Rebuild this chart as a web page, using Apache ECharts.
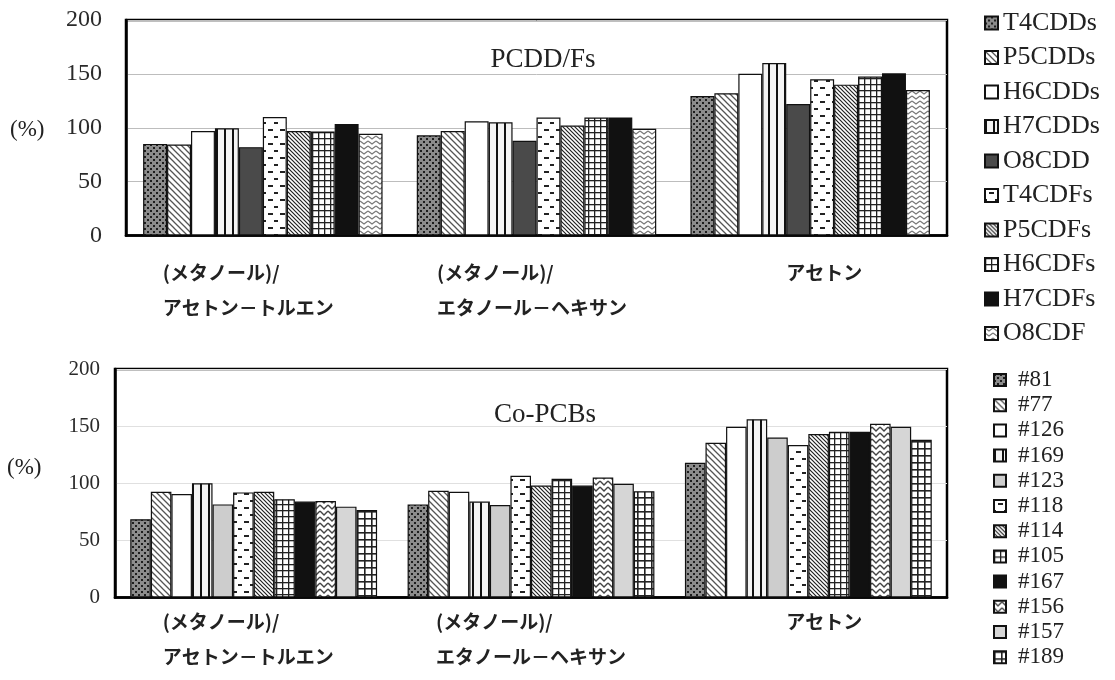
<!DOCTYPE html>
<html>
<head>
<meta charset="utf-8">
<script src="https://cdn.jsdelivr.net/npm/echarts@6/dist/echarts.min.js"></script>
<style>
html,body{margin:0;padding:0;background:#fff;}
#chart{width:1115px;height:680px;}
</style>
</head>
<body>
<div id="chart"></div>
<script>
// ---- data ----
const categories = ['(メタノール)/\nアセトン－トルエン', '(メタノール)/\nエタノール－ヘキサン', 'アセトン'];
const yTicks = [0, 50, 100, 150, 200];

const pcddNames = ['T4CDDs','P5CDDs','H6CDDs','H7CDDs','O8CDD','T4CDFs','P5CDFs','H6CDFs','H7CDFs','O8CDF'];
const pcddAcetoneToluene = [85, 84.5, 97, 99.5, 82, 110, 97, 96.5, 103.5, 94.5];
const pcddEthanolHexane  = [93, 97, 106, 105, 88, 109.5, 102, 109.5, 109.5, 99];
const pcddAcetone        = [129.5, 132, 150, 160, 122, 145, 140, 147.5, 150.5, 135];

const pcbNames = ['#81','#77','#126','#169','#123','#118','#114','#105','#167','#156','#157','#189'];
const pcbAcetoneToluene = [68.5, 92.5, 90.5, 100, 81.5, 92, 92.5, 86, 84, 84.5, 79.5, 76.5];
const pcbEthanolHexane  = [81.5, 93.5, 92.5, 84, 81, 106.5, 98, 104, 98, 105, 99.5, 93];
const pcbAcetone        = [118, 135.5, 149.5, 156, 140, 133.5, 143, 145, 145, 152, 149.5, 138];

// ---- fill patterns ----
function pat(w, h, draw) {
  const c = document.createElement('canvas');
  c.width = w; c.height = h;
  const g = c.getContext('2d');
  draw(g, w, h);
  return { image: c, repeat: 'repeat' };
}
const P = {
  dots: pat(6, 6, (g) => { g.fillStyle = '#8c8c8c'; g.fillRect(0,0,6,6); g.fillStyle = '#1e1e1e'; g.fillRect(0,0,2,2); g.fillRect(3,3,2,2); }),
  diagLight: pat(6, 6, (g) => { g.fillStyle = '#fff'; g.fillRect(0,0,6,6); g.strokeStyle = '#555'; g.lineWidth = 1.3;
    g.beginPath(); g.moveTo(-1,-1); g.lineTo(7,7); g.moveTo(-1,5); g.lineTo(1,7); g.moveTo(5,-1); g.lineTo(7,1); g.stroke(); }),
  white: '#ffffff',
  vstripes: pat(8, 4, (g) => { g.fillStyle = '#f4f4f4'; g.fillRect(0,0,8,4); g.fillStyle = '#111'; g.fillRect(0,0,2,4); }),
  darkGray: '#4a4a4a',
  dashes: pat(12, 14, (g) => { g.fillStyle = '#fff'; g.fillRect(0,0,12,14); g.fillStyle = '#222'; g.fillRect(4,3,5,2); g.fillRect(10,10,2,2); g.fillRect(0,10,2,2); }),
  diagDense: pat(4, 4, (g) => { g.fillStyle = '#fff'; g.fillRect(0,0,4,4); g.strokeStyle = '#222'; g.lineWidth = 1.2;
    g.beginPath(); g.moveTo(-1,-1); g.lineTo(5,5); g.moveTo(-1,3); g.lineTo(1,5); g.moveTo(3,-1); g.lineTo(5,1); g.stroke(); }),
  grid: pat(6, 6, (g) => { g.fillStyle = '#fff'; g.fillRect(0,0,6,6); g.fillStyle = '#222'; g.fillRect(0,0,6,1.3); g.fillRect(0,0,1.3,6); }),
  black: '#111111',
  wave: pat(8, 5, (g) => { g.fillStyle = '#fff'; g.fillRect(0,0,8,5); g.strokeStyle = '#777'; g.lineWidth = 1.2;
    g.beginPath(); g.moveTo(0,1); g.lineTo(4,4); g.lineTo(8,1); g.stroke(); }),
  chevron: pat(8, 6, (g) => { g.fillStyle = '#fff'; g.fillRect(0,0,8,6); g.strokeStyle = '#444'; g.lineWidth = 1.4;
    g.beginPath(); g.moveTo(0,1); g.lineTo(4,5); g.lineTo(8,1); g.stroke(); }),
  lightGray: '#cdcdcd',
  lightGray2: '#d6d6d6',
  grid2: pat(7, 7, (g) => { g.fillStyle = '#fff'; g.fillRect(0,0,7,7); g.fillStyle = '#222'; g.fillRect(0,0,7,1.6); g.fillRect(0,0,1.6,7); })
};
const pcddFills = [P.dots, P.diagLight, P.white, P.vstripes, P.darkGray, P.dashes, P.diagDense, P.grid, P.black, P.wave];
const pcbFills = [P.dots, P.diagLight, P.white, P.vstripes, P.lightGray, P.dashes, P.diagDense, P.grid, P.black, P.chevron, P.lightGray2, P.grid2];

const serif = 'Liberation Serif';
const jp = 'Noto Sans CJK JP';

function xAxisFor(idx, margin, pads) {
  const base = { fontFamily: jp, fontSize: 19, fontWeight: 'bold', lineHeight: 35, color: '#222', align: 'left' };
  const rich = {};
  pads.forEach((p, k) => { rich['r' + k] = Object.assign({}, base, { padding: p }); });
  return {
    type: 'category', gridIndex: idx, data: categories,
    axisLine: { lineStyle: { color: '#000', width: 2.5 } },
    axisTick: { show: false },
    axisLabel: {
      margin: margin, interval: 0,
      formatter: (v, k) => v.split('\n').map(s => '{r' + k + '|' + s + '}').join('\n'),
      rich: rich
    }
  };
}
function yAxisFor(idx, fontSize, margin, gridColor) {
  return {
    type: 'value', gridIndex: idx, min: 0, max: 200, interval: 50,
    axisLine: { show: true, lineStyle: { color: '#000', width: 2.5 } },
    axisTick: { show: false },
    axisLabel: { fontFamily: serif, fontSize: fontSize, color: '#2a2a2a', margin: margin,
      formatter: (v) => yTicks.includes(v) ? String(v) : '' },
    splitLine: { show: true, lineStyle: { color: gridColor, width: 1 } }
  };
}

const series = [];
pcddNames.forEach((n, i) => {
  series.push({
    name: n, type: 'bar', xAxisIndex: 0, yAxisIndex: 0,
    data: [pcddAcetoneToluene[i], pcddEthanolHexane[i], pcddAcetone[i]],
    barGap: '0%', barCategoryGap: '12.5%',
    itemStyle: { color: pcddFills[i], borderColor: '#111', borderWidth: 1.2 }
  });
});
pcbNames.forEach((n, i) => {
  series.push({
    name: n, type: 'bar', xAxisIndex: 1, yAxisIndex: 1,
    data: [pcbAcetoneToluene[i], pcbEthanolHexane[i], pcbAcetone[i]],
    barGap: '0%', barCategoryGap: '11%',
    itemStyle: { color: pcbFills[i], borderColor: '#111', borderWidth: 1.2 }
  });
});

const chart = echarts.init(document.getElementById('chart'), null, { renderer: 'canvas' });
chart.setOption({
  animation: false,
  backgroundColor: '#fff',
  title: [
    { text: 'PCDD/Fs', left: 538, top: 41, textAlign: 'center',
      textStyle: { fontFamily: serif, fontSize: 27, fontWeight: 'normal', color: '#222' } },
    { text: 'Co-PCBs', left: 540, top: 396, textAlign: 'center',
      textStyle: { fontFamily: serif, fontSize: 27, fontWeight: 'normal', color: '#222' } }
  ],
  grid: [
    { left: 126, top: 20, width: 821, height: 215.5, show: true, borderColor: '#000', borderWidth: 2.5, backgroundColor: 'transparent' },
    { left: 115, top: 369, width: 832, height: 228.5, show: true, borderColor: '#000', borderWidth: 2.5, backgroundColor: 'transparent' }
  ],
  xAxis: [
    xAxisFor(0, 20, [[0, 29, 0, 0], [0, 9, 0, 0], [0, 0, 0, 28]]),
    xAxisFor(1, 7, [[0, 11, 0, 0], [0, 0, 0, 0], [0, 0, 0, 32]])
  ],
  yAxis: [yAxisFor(0, 24, 24, '#bdbdbd'), yAxisFor(1, 21, 15, '#e0e0e0')],
  legend: [
    { data: pcddNames, orient: 'vertical', left: 979, top: 5, icon: 'rect',
      itemWidth: 13, itemHeight: 13, itemGap: 8.5, selectedMode: false,
      textStyle: { fontFamily: serif, fontSize: 26, lineHeight: 26, color: '#222' } },
    { data: pcbNames, orient: 'vertical', left: 988, top: 363.5, icon: 'rect',
      itemWidth: 12, itemHeight: 12, itemGap: 2.2, selectedMode: false,
      textStyle: { fontFamily: serif, fontSize: 23, lineHeight: 23, color: '#222', padding: [0, 0, 0, 7] } }
  ],
  graphic: [
    { type: 'text', left: 10, top: 118, style: { text: '(%)', fontFamily: serif, fontSize: 23, fill: '#222' } },
    { type: 'text', left: 7, top: 456, style: { text: '(%)', fontFamily: serif, fontSize: 23, fill: '#222' } }
  ],
  series: series
});
</script>
</body>
</html>
